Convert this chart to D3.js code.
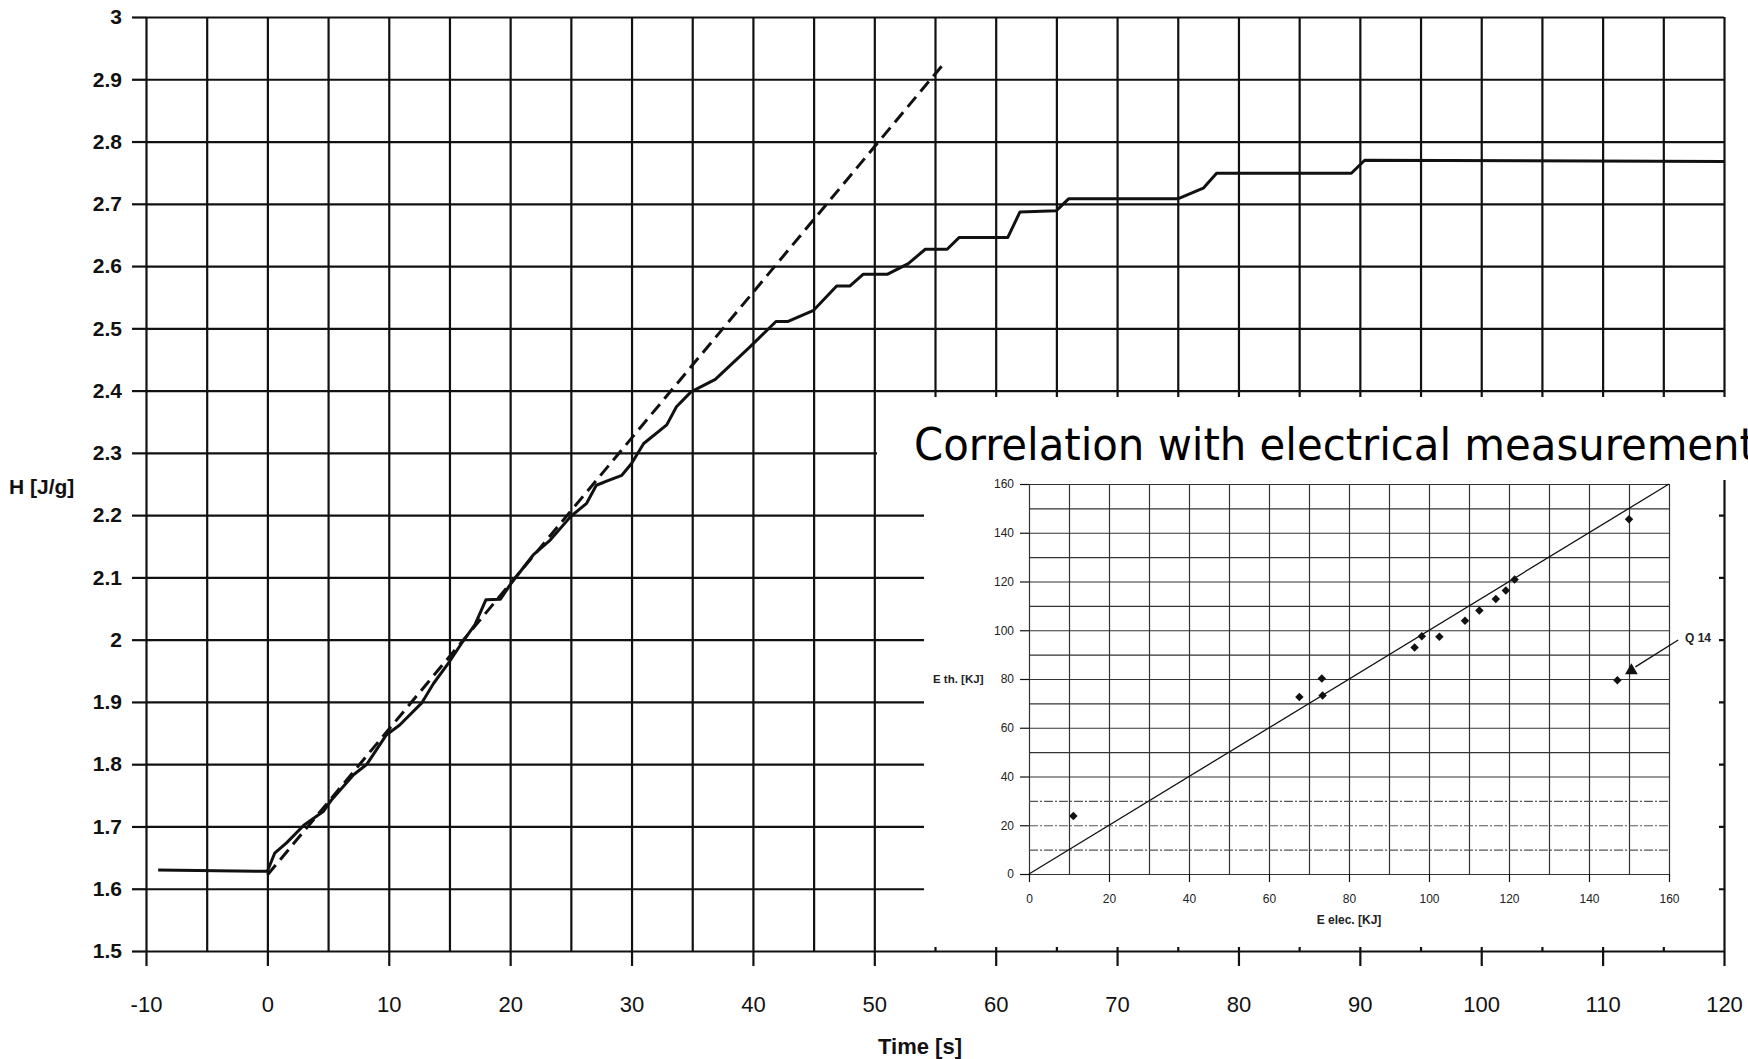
<!DOCTYPE html>
<html>
<head>
<meta charset="utf-8">
<script src="https://cdn.jsdelivr.net/npm/d3@7"></script>
<style>
body { margin: 0; background: #fff; }
</style>
</head>
<body>
<div id="main_graphs"></div>
<script>
// main curve: H [J/g] against time [s]
const timeS = [-9, 0, 0.6, 1.6, 3.0, 4.6, 5.3, 7.1, 8.2, 9.8, 10.9, 12.7, 13.7, 14.9, 16.1, 17.1, 18.0, 19.2,
  20.1, 21.9, 23.3, 25.0, 26.3, 27.1, 28.0, 29.2, 30.0, 31.0, 32.9, 33.7, 34.9, 36.9, 39.8, 41.9, 42.9,
  45.0, 46.9, 48.0, 49.1, 51.1, 52.8, 54.2, 56.0, 57.0, 61.0, 62.0, 65.0, 66.0, 75.0, 77.1, 78.2,
  89.3, 90.4, 120]
const enthalpy = [1.630, 1.628, 1.657, 1.674, 1.702, 1.724, 1.743, 1.783, 1.800, 1.847, 1.863, 1.898, 1.930,
  1.962, 1.997, 2.024, 2.064, 2.065, 2.091, 2.136, 2.160, 2.198, 2.219, 2.248, 2.255, 2.264, 2.283, 2.315,
  2.345, 2.374, 2.398, 2.418, 2.471, 2.511, 2.511, 2.529, 2.568, 2.568, 2.587, 2.587, 2.604, 2.627, 2.627,
  2.646, 2.646, 2.687, 2.689, 2.708, 2.708, 2.725, 2.749, 2.749, 2.770, 2.768]

// dashed straight line
const fitTime = [0, 55.8]
const fitH = [1.622, 2.927]

const yTicks = [1.5, 1.6, 1.7, 1.8, 1.9, 2, 2.1, 2.2, 2.3, 2.4, 2.5, 2.6, 2.7, 2.8, 2.9, 3]
const xTicks = [-10, 0, 10, 20, 30, 40, 50, 60, 70, 80, 90, 100, 110, 120]
const xGridTicks = [-10, -5, 0, 5, 10, 15, 20, 25, 30, 35, 40, 45, 50, 55, 60, 65, 70, 75, 80, 85, 90, 95,
  100, 105, 110, 115, 120]

// inset: E th. against E elec. (kJ)
const eElec = [11.1, 67.6, 73.2, 73.4, 96.4, 98.2, 102.6, 109.0, 112.6, 116.7, 119.2, 121.4, 150.0, 147.1]
const eTh = [23.8, 72.6, 80.2, 73.2, 92.9, 97.5, 97.3, 103.9, 108.1, 112.8, 116.3, 120.8, 145.5, 79.5]
const q14Elec = [150.6]
const q14Th = [83.5]
const insetTicks = [0, 20, 40, 60, 80, 100, 120, 140, 160]
const insetGrid = [0, 10, 20, 30, 40, 50, 60, 70, 80, 90, 100, 110, 120, 130, 140, 150, 160]
const diagonal = [0, 160]

const width = 1748
const height = 1059
const ink = "#111"
const font = "'Liberation Sans', Arial, Helvetica, sans-serif"

const svg = d3.select('#main_graphs')
  .append("svg")
  .attr("width", width)
  .attr("height", height)
  .style("background", "#fff")

var x = d3.scaleLinear().domain([-10, 120]).range([146, 1724])
var y = d3.scaleLinear().domain([1.5, 3]).range([951, 17])

function styleAxis(g, w) {
  g.select(".domain").remove()
  g.selectAll(".tick line").attr("stroke", ink).attr("stroke-width", w)
}

// vertical grid
svg.append("g")
  .attr("transform", "translate(0," + y(1.5) + ")")
  .call(d3.axisBottom(x).tickValues(xGridTicks).tickSize(-(y(1.5) - y(3))).tickFormat(""))
  .call(g => styleAxis(g, 2.2))

// horizontal grid
svg.append("g")
  .attr("transform", "translate(" + x(-10) + ",0)")
  .call(d3.axisLeft(y).tickValues(yTicks).tickSize(-(x(120) - x(-10))).tickFormat(""))
  .call(g => styleAxis(g, 2.2))

// x ticks and labels
svg.append("g")
  .attr("transform", "translate(0," + y(1.5) + ")")
  .call(d3.axisBottom(x).tickValues(xTicks).tickSize(15).tickPadding(30).tickFormat(d => String(d)))
  .call(g => styleAxis(g, 2.2))
  .selectAll("text")
  .attr("fill", ink)
  .style("font-family", font)
  .style("font-size", "22px")

// y ticks and labels
svg.append("g")
  .attr("transform", "translate(" + x(-10) + ",0)")
  .call(d3.axisLeft(y).tickValues(yTicks).tickSize(14).tickPadding(10).tickFormat(d => String(d)))
  .call(g => styleAxis(g, 2.2))
  .selectAll("text")
  .attr("fill", ink)
  .style("font-family", font)
  .style("font-size", "21px")
  .style("font-weight", "bold")

svg.append("text")
  .attr("x", 9)
  .attr("y", 494)
  .attr("fill", ink)
  .style("font-family", font)
  .style("font-size", "21px")
  .style("font-weight", "bold")
  .text("H [J/g]")

svg.append("text")
  .attr("x", 920)
  .attr("y", 1054)
  .attr("text-anchor", "middle")
  .attr("fill", ink)
  .style("font-family", font)
  .style("font-size", "22px")
  .style("font-weight", "bold")
  .text("Time [s]")

// dashed line
svg.append("path")
  .datum(d3.zip(fitTime, fitH))
  .attr("fill", "none")
  .attr("stroke", ink)
  .attr("stroke-width", 3)
  .attr("stroke-dasharray", "13,7")
  .attr("d", d3.line().x(d => x(d[0])).y(d => y(d[1])))

// measured curve
svg.append("path")
  .datum(d3.zip(timeS, enthalpy))
  .attr("fill", "none")
  .attr("stroke", ink)
  .attr("stroke-width", 3)
  .attr("stroke-linejoin", "round")
  .attr("d", d3.line().x(d => x(d[0])).y(d => y(d[1])))

// pasted inset covers part of the plot
svg.append("rect").attr("x", 877).attr("y", 397).attr("width", width - 877).attr("height", 83).attr("fill", "#fff")
svg.append("rect").attr("x", 924).attr("y", 478).attr("width", 1719 - 924).attr("height", 947 - 478).attr("fill", "#fff")

svg.append("text")
  .attr("x", 914)
  .attr("y", 460)
  .attr("fill", "#000")
  .attr("textLength", 842)
  .attr("lengthAdjust", "spacingAndGlyphs")
  .style("font-family", "'DejaVu Sans Condensed', 'DejaVu Sans', Verdana, sans-serif")
  .style("font-size", "45px")
  .text("Correlation with electrical measurement")

// inset chart
var ix = d3.scaleLinear().domain([0, 160]).range([1029, 1669])
var iy = d3.scaleLinear().domain([0, 160]).range([874, 484])
const inset = svg.append("g")

inset.append("g")
  .attr("transform", "translate(0," + iy(0) + ")")
  .call(d3.axisBottom(ix).tickValues(insetGrid).tickSize(-(iy(0) - iy(160))).tickFormat(""))
  .call(g => styleAxis(g, 1.2))
  .selectAll(".tick line").attr("stroke", "#333")

inset.append("g")
  .attr("transform", "translate(" + ix(0) + ",0)")
  .call(d3.axisLeft(iy).tickValues(insetGrid).tickSize(-(ix(160) - ix(0))).tickFormat(""))
  .call(g => styleAxis(g, 1.2))
  .selectAll(".tick line")
  .attr("stroke", "#333")
  .filter(d => d > 0 && d < 40)
  .attr("stroke", "#555")
  .attr("stroke-dasharray", "9,2,2,2")

inset.append("g")
  .attr("transform", "translate(0," + iy(0) + ")")
  .call(d3.axisBottom(ix).tickValues(insetTicks).tickSize(8).tickPadding(12))
  .call(g => styleAxis(g, 1.2))
  .selectAll("text")
  .attr("fill", "#222")
  .style("font-family", font)
  .style("font-size", "12px")

inset.append("g")
  .attr("transform", "translate(" + ix(0) + ",0)")
  .call(d3.axisLeft(iy).tickValues(insetTicks).tickSize(9).tickPadding(6))
  .call(g => styleAxis(g, 1.2))
  .selectAll("text")
  .attr("fill", "#222")
  .style("font-family", font)
  .style("font-size", "12px")

inset.append("text")
  .attr("x", 933)
  .attr("y", iy(80))
  .attr("dy", "0.35em")
  .attr("fill", "#222")
  .style("font-family", font)
  .style("font-size", "11.5px")
  .style("font-weight", "bold")
  .text("E th. [KJ]")

inset.append("text")
  .attr("x", ix(80))
  .attr("y", 924)
  .attr("text-anchor", "middle")
  .attr("fill", "#222")
  .style("font-family", font)
  .style("font-size", "12px")
  .style("font-weight", "bold")
  .text("E elec. [KJ]")

inset.append("path")
  .datum(d3.zip(diagonal, diagonal))
  .attr("fill", "none")
  .attr("stroke", ink)
  .attr("stroke-width", 1.3)
  .attr("d", d3.line().x(d => ix(d[0])).y(d => iy(d[1])))

inset.append("g")
  .selectAll("path")
  .data(d3.zip(eElec, eTh))
  .enter()
  .append("path")
  .attr("d", d3.symbol().type(d3.symbolSquare).size(36))
  .attr("transform", d => "translate(" + ix(d[0]) + "," + iy(d[1]) + ")rotate(45)")
  .attr("fill", ink)

inset.append("g")
  .selectAll("path")
  .data(d3.zip(q14Elec, q14Th))
  .enter()
  .append("path")
  .attr("d", d3.symbol().type(d3.symbolTriangle).size(70))
  .attr("transform", d => "translate(" + ix(d[0]) + "," + iy(d[1]) + ")")
  .attr("fill", ink)

// Q 14 pointer
inset.append("line")
  .attr("x1", ix(162.3)).attr("y1", iy(96))
  .attr("x2", ix(q14Elec[0] + 1)).attr("y2", iy(q14Th[0] + 1.5))
  .attr("stroke", ink)
  .attr("stroke-width", 1.4)

inset.append("text")
  .attr("x", ix(164))
  .attr("y", iy(97))
  .attr("dy", "0.35em")
  .attr("fill", "#222")
  .style("font-family", font)
  .style("font-size", "12px")
  .style("font-weight", "bold")
  .text("Q 14")
</script>
</body>
</html>
